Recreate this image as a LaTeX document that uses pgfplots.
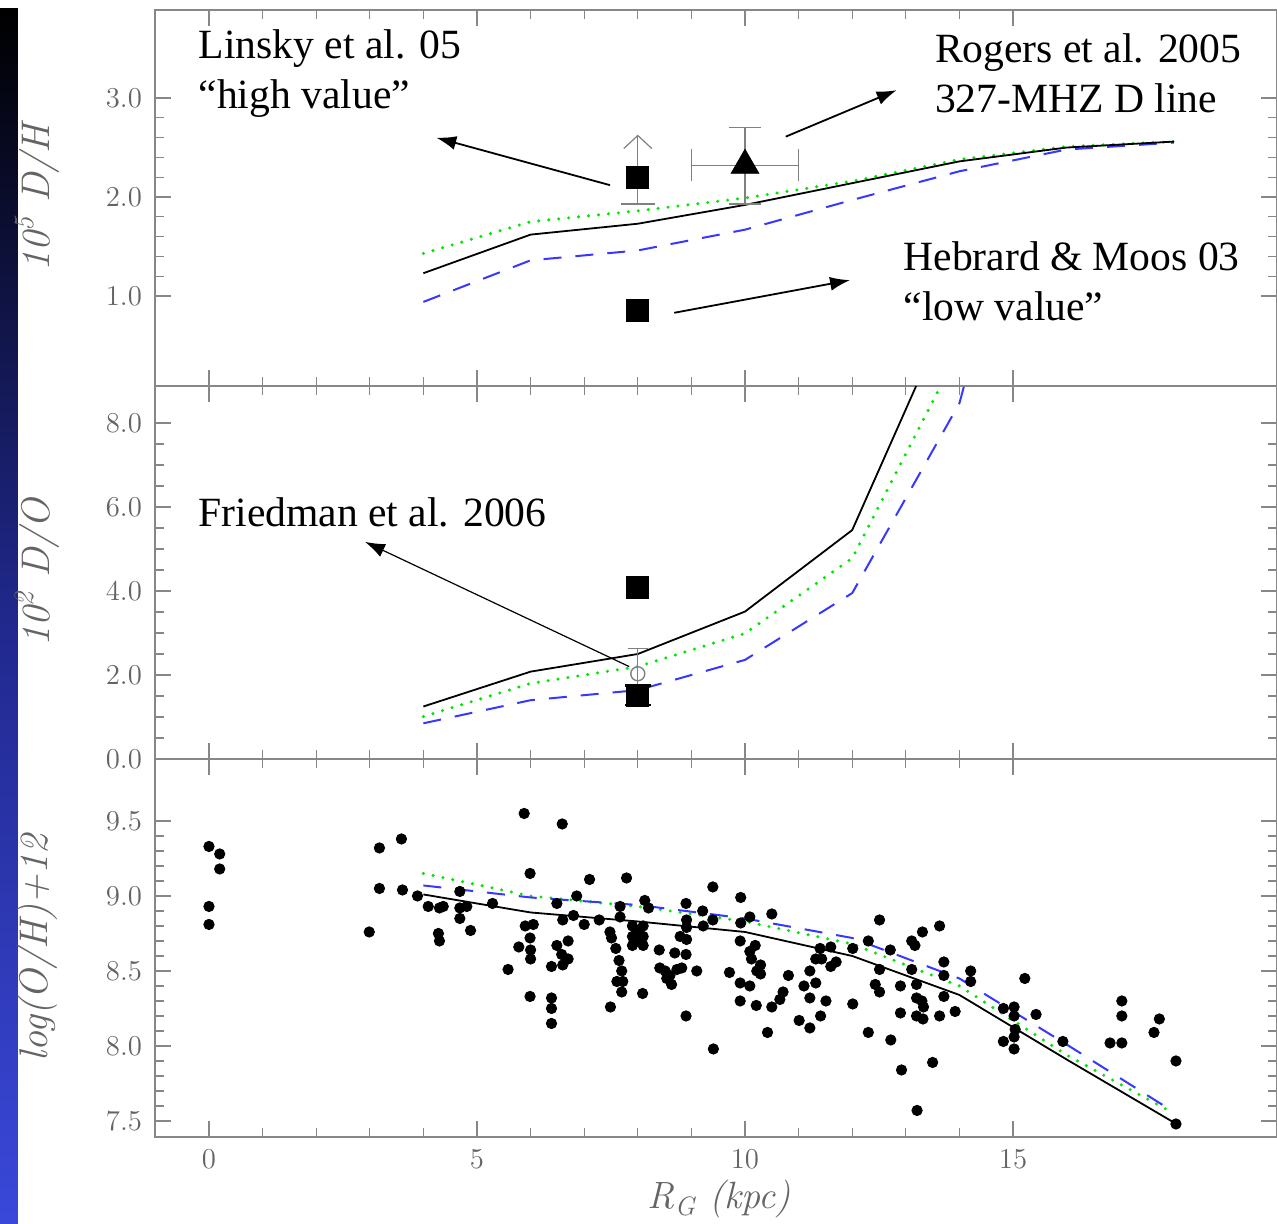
\documentclass[border=0pt]{standalone}
\usepackage{fontspec}
\usepackage{pgfplots}
\pgfplotsset{compat=1.18}
\usetikzlibrary{arrows.meta}
\newfontfamily\timesfont{Liberation Serif}
\definecolor{axgray}{RGB}{135,135,135}
\definecolor{tickgray}{RGB}{100,100,100}
\definecolor{lgreen}{RGB}{0,230,0}
\definecolor{lblue}{RGB}{55,55,255}
\definecolor{barbot}{RGB}{58,72,218}
\definecolor{barmid}{RGB}{32,40,140}

\tikzset{
  solidm/.style={black, line width=0.9pt},
  dotm/.style={lgreen, line width=1.7pt, dash pattern=on 0pt off 5pt, line cap=round},
  dashm/.style={lblue, line width=1pt, dash pattern=on 9pt off 7pt},
  ann/.style={anchor=west, align=left, inner sep=0pt, font=\timesfont\fontsize{20.8}{25}\selectfont},
  arr/.style={-{Latex[length=10pt,width=7pt]}, line width=0.9pt, black},
}
\pgfplotsset{
  panel/.style={
    scale only axis, width=561pt,
    xmin=-1.007, xmax=19.925,
    xtick={0,5,10,15}, minor x tick num=4,
    axis line style={axgray, line width=0.8pt},
    every tick/.style={axgray, line width=0.6pt},
    major tick length=8pt, minor tick length=4.5pt,
    tick label style={tickgray, font=\fontsize{15}{17}\selectfont},
    yticklabel style={xshift=-3pt, /pgf/number format/fixed, /pgf/number format/fixed zerofill, /pgf/number format/precision=1},
    xticklabel style={yshift=-3pt},
    label style={tickgray, font=\fontsize{20}{23}\selectfont\itshape},
    ylabel style={at={(axis description cs:-0.105,0.5)}, anchor=center},
    anchor=south west,
  },
}

\begin{document}
\begin{tikzpicture}
\shade[top color=black, bottom color=barbot, middle color=barmid] (-77.5pt,-43pt) rectangle (-68.5pt,564pt);

% ---------------- Panel 1: D/H
\begin{axis}[panel, at={(0pt,375.5pt)}, height=188pt,
  ymin=0.09, ymax=3.89, ytick={1,2,3}, minor y tick num=4, xticklabels={},
  ylabel={10\textsuperscript{5} D/H}]
\addplot[dotm, no marks] coordinates {(4,1.43)(6,1.75)(8,1.86)(10,1.99)(12,2.16)(14,2.38)(16,2.51)(18,2.56)};
\addplot[dashm, no marks] coordinates {(4,0.94)(6,1.36)(8,1.46)(10,1.67)(12,1.97)(14,2.26)(16,2.48)(18,2.55)};
\addplot[solidm, no marks] coordinates {(4,1.23)(6,1.62)(8,1.73)(10,1.92)(12,2.14)(14,2.36)(16,2.50)(18,2.56)};
% Linsky: lower error bar + upper-limit arrow
\addplot[gray, line width=0.6pt, no marks, -{Straight Barb[length=6.5pt,width=14pt]}] coordinates {(8,2.2)(8,2.63)};
\addplot[only marks, mark=square*, mark size=5.5pt, black,
  error bars/.cd, y dir=minus, y explicit, error mark=|,
  error bar style={gray, line width=0.6pt},
  error mark options={gray, mark size=8.5pt, line width=0.6pt}]
  coordinates {(8,2.2) -= (0,0.27)};
% Hebrard
\addplot[only marks, mark=square*, mark size=5.5pt, black] coordinates {(8,0.85)};
% Rogers
\addplot[only marks, mark=triangle*, mark size=8pt, black,
  error bars/.cd, x dir=both, x explicit, y dir=both, y explicit, error mark=|,
  error bar style={gray, line width=0.6pt},
  error mark options={gray, mark size=8pt, line width=0.6pt}]
  coordinates {(10,2.32) += (1.0,0.38) -= (1.0,0.39)};
\node[ann] at (axis cs:-0.2,3.25) {Linsky et al. 05\\“high value”};
\node[ann] at (axis cs:13.54,3.25) {Rogers et al. 2005\\327-MHZ D line};
\node[ann] at (axis cs:12.95,1.15) {Hebrard \& Moos 03\\“low value”};
\draw[arr] (axis cs:7.48,2.12) -- (axis cs:4.24,2.60);
\draw[arr] (axis cs:10.76,2.61) -- (axis cs:12.83,3.08);
\draw[arr] (axis cs:8.68,0.83) -- (axis cs:11.96,1.16);
\end{axis}

% ---------------- Panel 2: D/O
\begin{axis}[panel, at={(0pt,189pt)}, height=186.5pt,
  ymin=0, ymax=8.88, ytick={0,2,4,6,8}, minor y tick num=3, xticklabels={},
  ylabel={10\textsuperscript{2} D/O}]
\addplot[dotm, no marks] coordinates {(4,1.01)(6,1.80)(8,2.20)(10,2.99)(12,4.78)(14,9.75)};
\addplot[dashm, no marks] coordinates {(4,0.85)(6,1.40)(8,1.64)(10,2.36)(12,3.95)(14,8.47)(16,18)};
\addplot[solidm, no marks] coordinates {(4,1.25)(6,2.08)(8,2.50)(10,3.51)(12,5.45)(14,11.2)};
% Friedman (open symbol with error bar)
\addplot[only marks, mark=o, mark size=3.5pt, gray, mark options={fill=white, line width=0.7pt},
  error bars/.cd, y dir=both, y explicit, error mark=|,
  error bar style={gray, line width=0.6pt},
  error mark options={gray, mark size=5pt, line width=0.6pt}]
  coordinates {(8,2.03) += (0,0.61) -= (0,0.5)};
\addplot[only marks, mark=square*, mark size=5.5pt, black,
  error bars/.cd, y dir=both, y explicit, error mark=|,
  error bar style={black, line width=0.6pt},
  error mark options={black, mark size=6.5pt, line width=1.2pt}]
  coordinates {(8,1.52) +- (0,0.23)};
\addplot[only marks, mark=square*, mark size=5.5pt, black] coordinates {(8,4.09)};
\node[ann] at (axis cs:-0.2,5.88) {Friedman et al. 2006};
\draw[-{Latex[length=10pt,width=7pt]}, line width=0.6pt, black] (axis cs:7.84,2.20) -- (axis cs:2.91,5.17);
\end{axis}

% ---------------- Panel 3: O/H
\begin{axis}[panel, at={(0pt,0pt)}, height=189pt,
  ymin=7.393, ymax=9.913, ytick={7.5,8,8.5,9,9.5}, minor y tick num=4,
  ylabel={log(O/H)+12},
  xlabel={R\textsubscript{G} (kpc)},
  xlabel style={at={(axis description cs:0.503,-0.165)}, anchor=center, inner sep=0pt, font=\fontsize{19}{21}\selectfont\itshape}]
\addplot[dotm, no marks] coordinates {(4,9.15)(6,9.00)(8,8.93)(10,8.83)(12,8.68)(14,8.40)(16,7.94)(18,7.55)};
\addplot[dashm, no marks] coordinates {(4,9.07)(6,8.99)(8,8.94)(10,8.85)(12,8.72)(14,8.45)(16,8.01)(18,7.56)};
\addplot[solidm, no marks] coordinates {(4,9.01)(6,8.89)(8,8.83)(10,8.76)(12,8.60)(14,8.34)(16,7.91)(18,7.49)};
\addplot[only marks, mark=*, mark size=2.6pt, black] coordinates {
(0,9.33)(0.2,9.28)(0.2,9.18)(0,8.93)(0,8.81)
(2.99,8.76)(3.18,9.32)(3.18,9.05)(3.59,9.38)(3.61,9.04)(3.89,9.0)
(4.09,8.93)(4.30,8.92)(4.37,8.93)(4.28,8.75)(4.30,8.70)(4.68,9.03)(4.68,8.92)(4.81,8.93)(4.68,8.85)(4.88,8.77)(5.29,8.95)
(5.88,9.55)(6.59,9.48)(5.99,9.15)(5.90,8.80)(6.05,8.81)(5.99,8.72)(5.78,8.66)(6.0,8.64)(6.0,8.58)(5.58,8.51)(5.99,8.33)
(6.49,8.95)(6.6,8.84)(6.80,8.87)(6.70,8.70)(6.49,8.67)(6.58,8.61)(6.70,8.58)(6.39,8.53)(6.60,8.54)(6.39,8.32)(6.39,8.25)(6.39,8.15)(6.86,9.0)
(7.0,8.81)(7.10,9.11)(7.79,9.12)(7.28,8.84)(7.67,8.93)(7.67,8.86)(7.48,8.76)(7.51,8.72)(7.59,8.65)(7.65,8.57)(7.70,8.50)(7.61,8.43)(7.72,8.43)(7.70,8.36)(7.49,8.26)(8.09,8.35)(8.13,8.97)(8.20,8.92)
(7.9,8.80)(8.1,8.80)(7.9,8.73)(8.1,8.73)(7.9,8.67)(8.1,8.67)(8.0,8.76)(8.0,8.70)
(8.40,8.64)(8.69,8.62)(8.90,8.61)(8.41,8.52)(8.51,8.50)(8.60,8.47)(8.54,8.45)(8.63,8.41)(8.73,8.51)(8.82,8.52)
(8.90,8.95)(8.91,8.84)(8.91,8.79)(8.79,8.73)(8.91,8.71)(8.90,8.20)(9.10,8.50)(9.21,8.90)(9.22,8.80)(9.40,9.06)(9.40,8.84)(9.71,8.49)(9.92,8.99)(9.92,8.82)(9.91,8.70)(9.91,8.42)(9.91,8.30)(10.09,8.86)(10.09,8.63)(10.09,8.40)(9.41,7.98)
(10.50,8.88)(10.19,8.67)(10.12,8.58)(10.29,8.54)(10.22,8.50)(10.29,8.48)(10.21,8.27)(10.50,8.26)(10.65,8.31)(10.71,8.36)(10.42,8.09)(10.81,8.47)(11.10,8.40)(11.21,8.50)(11.32,8.42)(11.21,8.32)(11.51,8.30)(11.41,8.20)(11.01,8.17)(11.21,8.12)(11.40,8.65)(11.32,8.58)(11.43,8.58)(11.60,8.66)(11.70,8.56)(11.60,8.53)(12.01,8.65)(12.01,8.28)(12.30,8.70)(12.51,8.84)(12.51,8.51)(12.43,8.41)(12.51,8.36)(12.71,8.64)(12.90,8.40)(12.90,8.22)(12.30,8.09)(12.72,8.04)(12.92,7.84)
(13.11,8.70)(13.17,8.67)(13.11,8.51)(13.20,8.41)(13.20,8.32)(13.20,8.20)(13.31,8.76)(13.63,8.80)(13.30,8.30)(13.33,8.26)(13.32,8.18)(13.63,8.20)(13.50,7.89)(13.21,7.57)(13.71,8.56)(13.71,8.47)(13.71,8.33)(13.92,8.23)(14.21,8.50)(14.21,8.43)
(15.22,8.45)(14.82,8.25)(15.02,8.26)(15.02,8.20)(15.04,8.11)(15.02,8.06)(14.82,8.03)(15.02,7.98)(15.43,8.21)(15.93,8.03)
(17.03,8.30)(17.03,8.20)(17.03,8.02)(16.81,8.02)(17.73,8.18)(17.63,8.09)(18.04,7.90)(18.04,7.48)
};
\end{axis}

\pgfresetboundingbox
\path[use as bounding box] (-77.5pt,-43pt) rectangle (561pt,568.5pt);
\end{tikzpicture}
\end{document}
